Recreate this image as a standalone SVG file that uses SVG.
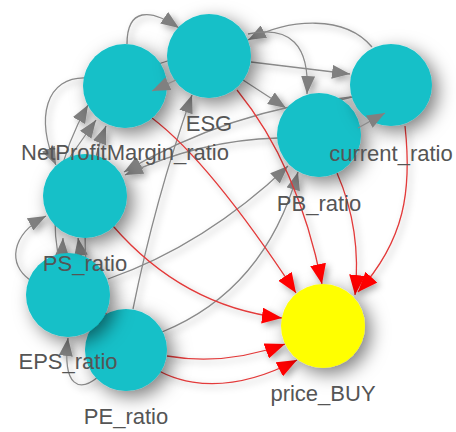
<svg xmlns="http://www.w3.org/2000/svg" width="456" height="432" viewBox="0 0 456 432">
<style>
.n circle{fill:#14c0c8}
.py circle{fill:#ffff00}
.lbl{font-family:"Liberation Sans",Arial,sans-serif;font-size:22px;fill:#555555;text-anchor:middle}
.g{fill:none;stroke:#8a8a8a;stroke-width:1.3}
.ga{fill:none;stroke:#8a8a8a;stroke-width:1.3;marker-end:url(#ag)}
.r{fill:none;stroke:#e23a3a;stroke-width:1.3;marker-end:url(#ar)}
</style>
<defs>
<filter id="ns" x="-70%" y="-70%" width="240%" height="240%"><feDropShadow dx="6" dy="6" stdDeviation="9" flood-color="#000" flood-opacity="0.5"/></filter>
<filter id="es" x="-20%" y="-20%" width="140%" height="140%"><feDropShadow dx="3" dy="3" stdDeviation="3.5" flood-color="#000" flood-opacity="0.35"/></filter>
<marker id="ag" viewBox="0 0 18 14" refX="18" refY="7" markerWidth="18" markerHeight="14" markerUnits="userSpaceOnUse" orient="auto"><path d="M0,0L18,7L0,14Z" fill="#808080"/></marker>
<marker id="ar" viewBox="0 0 20 16" refX="20" refY="8" markerWidth="20" markerHeight="16" markerUnits="userSpaceOnUse" orient="auto"><path d="M0,0L20,8L0,16Z" fill="#ff0000"/></marker>
</defs>
<rect width="456" height="432" fill="#fff"/>
<g id="connectors" filter="url(#es)">
<path class="g" d="M140,70 L195,52"/>
<path class="ga" d="M127,44 C127,8 150,8 179,28"/>
<path class="ga" d="M372,47 C345,15 290,18 248,40"/>
<path class="ga" d="M248,34 C290,25 310,45 307,94"/>
<path class="ga" d="M251,62 L350,74"/>
<path class="ga" d="M243,80 L286,108"/>
<path class="g" d="M340,100 L360,95"/>
<path class="ga" d="M351,97 Q230,110 124,172"/>
<path class="ga" d="M278,138 Q200,140 125,175"/>
<path class="ga" d="M108,279 Q205,245 288,166"/>
<path class="ga" d="M162,332 Q265,290 298,172"/>
<path class="ga" d="M133,309 Q155,200 192,95"/>
<path class="ga" d="M88,78 C45,75 35,120 56,165"/>
<path class="ga" d="M30,280 C8,265 10,235 46,216"/>
<path class="ga" d="M62,256 L63,238"/>
<path class="ga" d="M104,316 Q85,280 78,238"/>
<path class="ga" d="M70,157 L96,120"/>
<path class="ga" d="M58,255 Q45,180 88,105"/>
<path class="ga" d="M96,322 Q70,220 106,126"/>
<path class="ga" d="M98,377 C80,392 62,388 68,338"/>
<path class="r" d="M152,118 Q210,162 296,293"/>
<path class="r" d="M237,90 Q298,165 322,284"/>
<path class="r" d="M337,173 Q362,230 355,295"/>
<path class="r" d="M405,126 C412,190 405,240 358,292"/>
<path class="r" d="M113,226 C160,280 215,310 282,318"/>
<path class="r" d="M167,356 Q225,366 285,344"/>
<path class="r" d="M105,312 C150,400 230,395 297,360"/>
</g>
<g id="PE_ratio" class="n"><circle cx="126" cy="350" r="41" filter="url(#ns)"/><text class="lbl" x="126" y="424">PE_ratio</text></g>
<g id="EPS_ratio" class="n"><circle cx="68" cy="295" r="42" filter="url(#ns)"/><text class="lbl" x="68" y="369">EPS_ratio</text></g>
<g id="PS_ratio" class="n"><circle cx="85" cy="196" r="42" filter="url(#ns)"/><text class="lbl" x="85" y="271">PS_ratio</text></g>
<g id="NetProfitMargin_ratio" class="n"><circle cx="125" cy="86" r="42" filter="url(#ns)"/><text class="lbl" x="125" y="160">NetProfitMargin_ratio</text></g>
<g id="ESG" class="n"><circle cx="209" cy="56" r="42" filter="url(#ns)"/><text class="lbl" x="209" y="131">ESG</text></g>
<g id="PB_ratio" class="n"><circle cx="319" cy="135" r="42" filter="url(#ns)"/><text class="lbl" x="319" y="211">PB_ratio</text></g>
<g id="current_ratio" class="n"><circle cx="391" cy="85" r="41" filter="url(#ns)"/><text class="lbl" x="391" y="161">current_ratio</text></g>
<g id="price_BUY" class="py"><circle cx="323" cy="326" r="42" filter="url(#ns)"/><text class="lbl" x="323" y="401">price_BUY</text></g>
<g id="connectors-top">
<path class="ga" d="M176,80 L152,91"/>
<path class="ga" d="M358,128 L385,113"/>
</g>
</svg>
